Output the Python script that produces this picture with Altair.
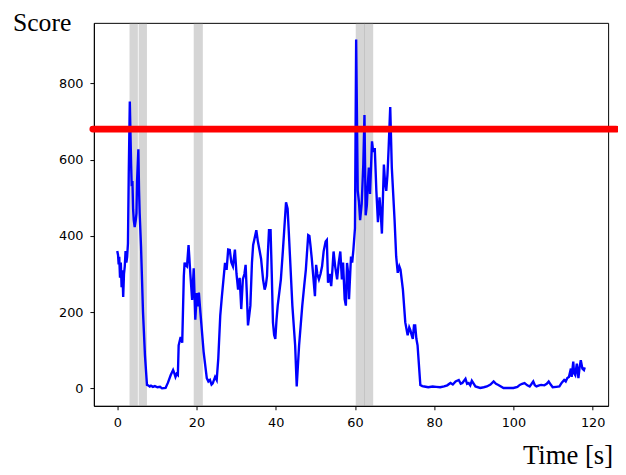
import altair as alt
import pandas as pd

time_s = [0, 0.2, 0.35, 0.5, 0.7, 0.9, 1.1, 1.3, 1.5, 1.7, 1.9, 2.1, 2.3, 2.5, 2.7, 2.9, 3.17,
          3.5, 3.65, 3.83, 4.0, 4.17, 4.4, 4.66, 4.85, 5.0, 5.33, 5.5, 5.66, 6.0, 6.5, 7.0, 7.5,
          7.8, 8.2, 8.5, 9.0, 9.5, 10.15, 10.8, 11.3, 12.2, 12.8, 13.5, 14.1, 14.4, 14.7, 15.0, 15.3,
          15.5, 16.0, 16.4, 16.8, 17.0, 17.2, 17.6, 18.0, 18.45, 18.9, 19.3, 19.7, 20.1, 20.3, 20.6,
          21.0, 21.8, 22.6, 23.0, 23.4, 23.8, 24.1, 24.7, 25.1, 25.5, 26.0, 26.4, 27.2, 27.6, 28.0,
          28.4, 28.8, 29.2, 29.7, 30.1, 30.5, 30.9, 31.3, 31.7, 32.1, 32.4, 32.7, 33.0, 33.3, 33.6,
          34.0, 34.3, 34.7, 35.1, 35.5, 35.9, 36.3, 36.8, 37.2, 37.5, 37.8, 38.0, 38.3, 38.7, 39.0,
          39.3, 39.6, 39.9, 40.2, 40.5, 41.0, 41.3, 41.8, 42.2, 42.6, 43.0, 43.3, 43.6, 44.2, 44.9,
          45.3, 45.6, 45.9, 46.7, 47.2, 47.6, 48.2, 48.5, 48.8, 49.1, 49.4, 49.9, 50.2, 50.5, 50.9,
          51.3, 51.7, 52.1, 52.6, 52.9, 53.2, 53.6, 54.0, 54.3, 54.6, 55.0, 55.5, 55.9, 56.3, 56.7,
          57.0, 57.4, 57.7, 58.0, 58.3, 58.5, 59.0, 59.3, 59.6, 60.0, 60.3,
          60.7, 61.0, 61.3, 61.7, 62.1, 62.4, 62.7, 63.0, 63.2, 63.5, 63.8, 64.3, 64.6, 65.0, 65.4,
          65.8, 66.2, 66.5, 66.8, 67.3, 67.6, 67.9, 68.2, 68.5, 68.9, 69.3, 69.6, 70.0, 70.4, 70.8,
          71.2, 71.5, 72.1, 72.7, 73.3, 73.7, 74.0, 74.3, 74.6, 74.9, 75.2, 75.5, 75.8, 76.5, 77.0,
          77.5, 78.5, 79.6, 80.5, 81.5, 82.5, 83.3, 84.1, 84.7, 85.4, 86.2, 86.7, 87.1, 87.9, 88.3,
          88.7, 89.1, 89.5, 90.0, 90.4, 91.6, 92.5, 93.3, 94.2, 95.0, 95.6, 96.2, 97.5, 99.0, 100.0,
          101.0, 101.6, 102.2, 102.8, 103.5, 104.1, 104.6, 105.0, 105.4, 105.8, 106.5, 107.0, 107.8,
          108.4, 108.9, 109.4, 109.9, 110.8, 111.6, 112.2, 112.8, 113.2, 113.6, 114.0, 114.5, 114.7,
          115.1, 115.3, 115.6, 116.0, 116.4, 116.7, 117.0, 117.4, 117.8, 118.0]

score = [360, 350, 325, 345, 290, 330, 265, 310, 240, 300, 320, 360, 330, 345, 380, 560, 752,
         588, 530, 544, 470, 441, 423, 440, 459, 544, 627, 520, 459, 372, 200, 86, 9,
         8, 5, 7, 4, 6, 3, 4, 0, 1, 15, 35, 48, 40, 30, 38, 35,
         113, 135, 120, 294, 330, 324, 320, 376, 300, 232, 315, 180, 250, 215, 251,
         198, 96, 27, 18, 22, 10, 13, 30, 22, 78, 191, 240, 329, 311, 364,
         363, 330, 320, 364, 300, 259, 290, 208, 286, 300, 324, 250, 165, 190, 217,
         330, 376, 395, 415, 385, 363, 340, 286, 259, 270, 294, 350, 415, 415, 300,
         173, 140, 130, 180, 217, 260, 286, 360, 424, 488, 471, 410, 346, 217, 113,
         5, 60, 113, 217, 270, 311, 402, 400, 372, 340, 303, 242, 324, 300, 286,
         300, 320, 360, 385, 389, 277, 300, 268, 310, 359, 320, 286, 330, 359, 286,
         330, 234, 217, 329, 300, 234, 346, 330, 363, 420, 915,
         518, 490, 441, 484, 587, 717, 454, 480, 527, 579, 510, 648, 620, 630, 518,
         436, 501, 460, 406, 587, 540, 518, 560, 630, 738, 579, 520, 441, 346, 303,
         320, 311, 259, 173, 139, 160, 152, 140, 130, 165, 165, 130, 113, 9, 6,
         5, 3, 5, 4, 3, 5, 8, 14, 10, 18, 22, 12, 14, 25, 12,
         14, 8, 20, 12, 5, 1, 3, 5, 10, 18, 12, 9, 1, 1, 1,
         4, 9, 12, 14, 8, 5, 12, 18, 8, 5, 8, 9, 8,
         12, 18, 10, 3, 4, 5, 15, 22, 18, 27, 30, 52, 30,
         70, 40, 35, 65, 27, 55, 74, 52, 48, 55]

span_start = [3.1, 5.4, 19.3, 60.2, 62.35]
span_end = [5.2, 7.5, 21.6, 62.5, 64.6]
threshold = [680]

x_ticks = [0, 20, 40, 60, 80, 100, 120]
y_ticks = [0, 200, 400, 600, 800]

W, H = 521, 388

df = pd.DataFrame({"t": time_s, "score": score})
spans = pd.DataFrame({"start": span_start, "end": span_end})
thr = pd.DataFrame({"y": threshold})

xs = alt.Scale(domain=[-5.9, 123.9], nice=False, zero=False)
ys = alt.Scale(domain=[-45.8, 958.6], nice=False, zero=False)

xaxis = alt.Axis(values=x_ticks, title=None, grid=False, format="d")
yaxis = alt.Axis(values=y_ticks, title=None, grid=False, format="d")

rects = alt.Chart(spans).mark_rect(color="#808080", opacity=0.33).encode(
    x=alt.X("start:Q", scale=xs, axis=xaxis),
    x2="end:Q",
    y=alt.value(0),
    y2=alt.value(H),
)

line = alt.Chart(df).mark_line(color="#0000ff", strokeWidth=2.4).encode(
    x=alt.X("t:Q", scale=xs, axis=xaxis),
    y=alt.Y("score:Q", scale=ys, axis=yaxis),
)

rule = alt.Chart(thr).mark_rule(color="#ff0000", strokeWidth=7, strokeCap="round").encode(
    y=alt.Y("y:Q", scale=ys, axis=yaxis),
    x=alt.value(-1),
    x2=alt.value(W + 8),
)

lbl = pd.DataFrame({"a": [1]})
ytitle = alt.Chart(lbl).mark_text(text="Score", font="Liberation Serif", fontSize=26,
                                  align="left", baseline="alphabetic", color="black").encode(
    x=alt.value(-82), y=alt.value(8))
xtitle = alt.Chart(lbl).mark_text(text="Time [s]", font="Liberation Serif", fontSize=27,
                                  align="right", baseline="alphabetic", color="black").encode(
    x=alt.value(526), y=alt.value(447))

chart = alt.layer(rects, line, rule, ytitle, xtitle).properties(
    width=W, height=H,
    autosize=alt.AutoSizeParams(type="none"),
    padding={"left": 87, "top": 12, "right": 10, "bottom": 66},
).configure_view(stroke="black", strokeWidth=1).configure_axis(
    domainColor="black", tickColor="black", labelColor="black",
    labelFont="DejaVu Sans", labelFontSize=13, tickSize=4, labelPadding=7,
    domainWidth=1, tickWidth=1,
)

chart.save("out.html", embed_options={"renderer": "svg", "actions": False})
